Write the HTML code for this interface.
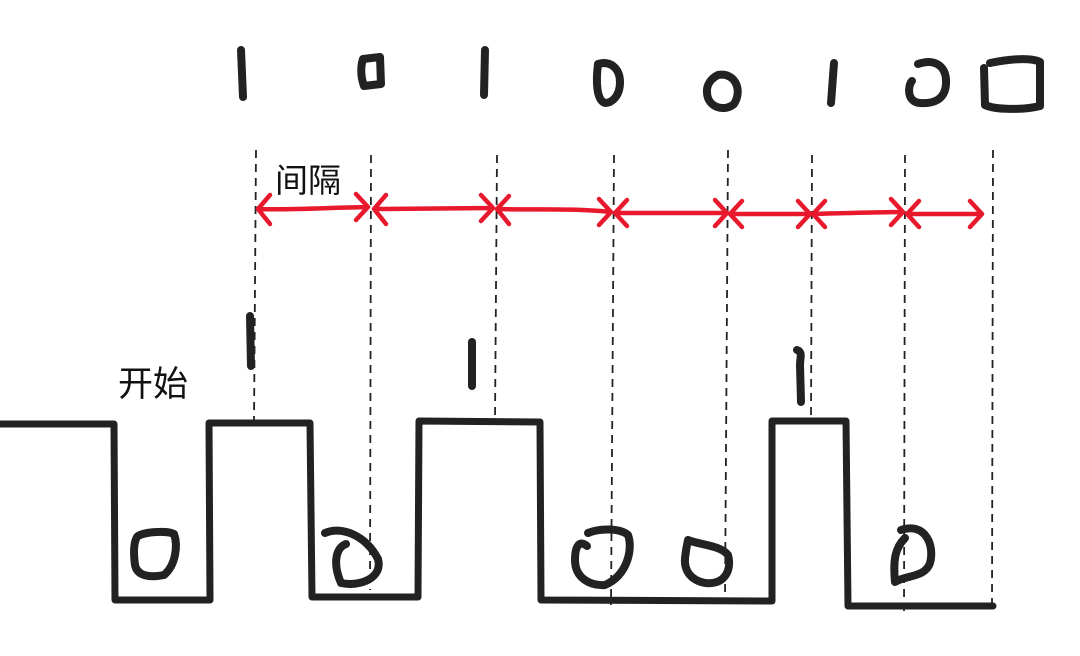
<!DOCTYPE html>
<html><head><meta charset="utf-8"><style>
html,body{margin:0;padding:0;background:#fff;width:1080px;height:656px;overflow:hidden}
svg{display:block}
</style></head><body>
<svg width="1080" height="656" viewBox="0 0 1080 656" xmlns="http://www.w3.org/2000/svg">
<g stroke="#222" stroke-width="1.8" stroke-dasharray="8,6" fill="none">
<line x1="256" y1="150" x2="254" y2="421"/>
<line x1="371" y1="155" x2="370" y2="590"/>
<line x1="497" y1="155" x2="495" y2="420"/>
<line x1="614" y1="155" x2="611" y2="605"/>
<line x1="728" y1="150" x2="725" y2="600"/>
<line x1="812" y1="155" x2="811" y2="420"/>
<line x1="905" y1="155" x2="904" y2="612"/>
<line x1="993" y1="150" x2="992" y2="605"/>
</g>
<polyline points="0,424 114,424 115,600 210,600 209,423 310,423 312,597 418,597 419,421 540,422 541,600 772,601 772,421 846,421 848,606 993,606" fill="none" stroke="#222" stroke-width="7" stroke-linejoin="round" stroke-linecap="round"/>
<g stroke="#e8192c" stroke-width="4.5" fill="none" stroke-linecap="round" stroke-linejoin="round">
<path d="M258,209 C290,210 320,208 368,207 M270,195 L258,209 L270,224 M356,194 L368,207 L356,220"/>
<path d="M374,209 L493,208 M386,195 L374,209 L386,224 M481,195 L493,208 L481,221"/>
<path d="M497,209 C540,210 570,208 611,212 M509,196 L497,209 L509,224 M599,199 L611,212 L599,225"/>
<path d="M615,213 L727,213 M627,200 L615,213 L627,226 M715,200 L727,213 L715,226"/>
<path d="M730,214 L810,214 M742,201 L730,214 L742,227 M798,201 L810,214 L798,227"/>
<path d="M813,214 C850,213 880,212 903,212 M825,201 L813,214 L825,227 M891,199 L903,212 L891,225"/>
<path d="M907,214 L982,214 M919,201 L907,214 L919,227 M970,201 L982,214 L970,227"/>
</g>
<g stroke="#222" stroke-width="8" fill="none" stroke-linecap="round" stroke-linejoin="round">
<path d="M241,50 L243,97"/>
<path d="M363,59 L380,57 L381,84 L364,86 C360,75 361,65 363,59"/>
<path d="M485,50 L484,95"/>
<path d="M598,64 C612,60 620,70 620,82 C620,96 612,103 605,103 C596,100 596,80 598,64"/>
<path d="M718,75 C735,72 743,90 734,104 C725,112 708,108 707,93 C706,84 712,78 718,75"/>
<path d="M834,63 L831,103"/>
<path d="M918,64 C935,58 947,66 946,84 C945,100 933,104 920,103 C906,102 908,85 912,81"/>
<path d="M990,63 C1015,58 1033,58 1040,62 L1040,106 C1025,110 995,110 985,105 L984,68"/>
<path d="M250,316 L251,366"/>
<path d="M472,342 L472,386"/>
<path d="M797,350 C803,352 800,358 800,365 L801,402"/>
<path d="M137,537 C141,532 167,530 174,534 C178,545 176,565 164,575 C150,578 137,576 135,565 C133,550 134,542 137,537"/>
<path d="M325,533 C340,526 365,534 378,559 C383,578 360,587 341,583 C333,565 335,548 346,544"/>
<path d="M588,533 C600,528 620,528 628,535 C633,548 628,575 605,585 C590,586 575,578 575,560 C575,545 580,540 587,546"/>
<path d="M688,540 C700,545 720,545 728,555 C732,570 725,585 705,583 C690,580 684,570 685,558 C686,549 688,540 688,540"/>
<path d="M901,530 C925,522 935,545 930,563 C925,578 905,575 895,582 C893,560 895,548 905,538"/>
</g>
<text x="275" y="192" font-family="'Liberation Sans','Noto Sans CJK SC',sans-serif" font-size="33" fill="#111">间隔</text>
<text x="118" y="396" font-family="'Liberation Sans','Noto Sans CJK SC',sans-serif" font-size="35" fill="#111">开始</text>
</svg>
</body></html>
